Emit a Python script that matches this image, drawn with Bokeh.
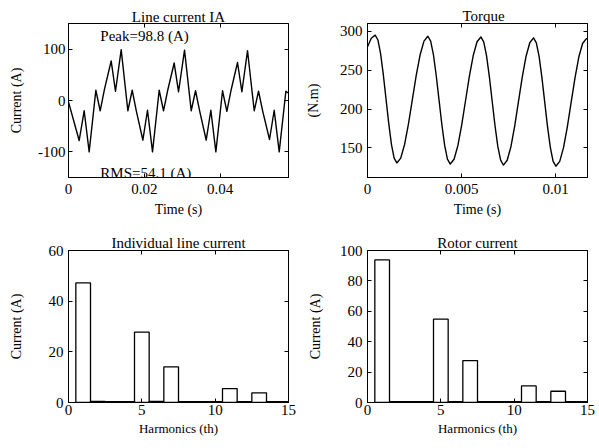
from bokeh.plotting import figure
from bokeh.models import FixedTicker, LinearAxis, Label, Range1d, NumeralTickFormatter, Title
from bokeh.layouts import column, row
from bokeh.embed import file_html
from bokeh.resources import INLINE

FONT = "Liberation Serif"

# ---- Line current IA (vertices) ----
ia_time = [0, 0.00281, 0.00413, 0.00545, 0.00721, 0.00835, 0.00949, 0.01125, 0.01239, 0.01389,
           0.01565, 0.01679, 0.01793, 0.01960, 0.02083, 0.02215, 0.02391, 0.02505, 0.02619, 0.02786,
           0.02901, 0.03059, 0.03235, 0.03349, 0.03463, 0.03630, 0.03753, 0.03885, 0.04061, 0.04175,
           0.04289, 0.04456, 0.04571, 0.04720, 0.04896, 0.05010, 0.05124, 0.05300, 0.05423, 0.05555,
           0.05731, 0.05801]
ia_current = [-3, -78, -20, -100, 20, -20, 22, 77, 18, 99,
              -20, 20, -22, -77, -19, -100, 20, -20, 21, 73,
              17, 98, -20, 19, -22, -77, -19, -100, 19, -21,
              21, 74, 17, 97, -20, 18, -22, -76, -19, -100,
              18, 14]

# ---- Torque ----
torque_time = [0, 0.0002, 0.00041,
               0.000554, 0.000698, 0.000841, 0.000985, 0.001129, 0.001273, 0.001416, 0.00156,
               0.001766, 0.001973, 0.002179, 0.002385, 0.002591, 0.002798, 0.003004, 0.00321,
               0.003359, 0.003508, 0.003656, 0.003805, 0.003954, 0.004103, 0.004251, 0.0044,
               0.004604, 0.004808, 0.005011, 0.005215, 0.005419, 0.005623, 0.005826, 0.00603,
               0.00618, 0.00633, 0.00648, 0.00663, 0.00678, 0.00693, 0.00708, 0.00723,
               0.00743, 0.00763, 0.00783, 0.00803, 0.00823, 0.00843, 0.00863, 0.00883,
               0.008979, 0.009128, 0.009276, 0.009425, 0.009574, 0.009723, 0.009871, 0.01002,
               0.010223, 0.010425, 0.010628, 0.01083, 0.011033, 0.011235, 0.011438, 0.01164,
               0.0117]
torque_value = [280, 291, 295,
                288.8, 271.0, 244.2, 212.9, 181.5, 154.7, 136.9, 130.7,
                136.9, 154.5, 181.0, 212.2, 243.3, 269.8, 287.4, 293.6,
                287.4, 269.6, 242.8, 211.5, 180.1, 153.3, 135.5, 129.3,
                135.5, 153.2, 179.8, 211.0, 242.2, 268.8, 286.5, 292.7,
                286.4, 268.7, 241.8, 210.4, 178.9, 152.0, 134.3, 128.0,
                134.2, 151.9, 178.5, 209.8, 241.0, 267.6, 285.3, 291.5,
                285.2, 267.4, 240.5, 209.0, 177.5, 150.6, 132.8, 126.5,
                132.7, 150.4, 177.2, 208.5, 239.8, 266.6, 284.3, 290.5,
                290.4]

# ---- Harmonic spectra ----
harmonic_order = list(range(1, 16))
line_harm = [47.2, 0.4, 0.3, 0.3, 27.8, 0.4, 14.1, 0.3, 0.3, 0.3, 5.5, 0.3, 3.8, 0.3, 0.3]
rotor_harm = [93.8, 0.6, 0.5, 0.5, 54.8, 0.6, 27.6, 0.5, 0.5, 0.5, 10.9, 0.5, 7.4, 0.5, 0.5]

ia_xticks = [0, 0.02, 0.04]
ia_yticks = [-100, 0, 100]
tq_xticks = [0, 0.005, 0.01]
tq_yticks = [150, 200, 250, 300]
h_xticks = [0, 5, 10, 15]
h1_yticks = [0, 20, 40, 60]
h2_yticks = [0, 20, 40, 60, 80, 100]


def make_fig(w, h, xr, yr, xt, yt, bl, br, bt, bb, title, title_standoff, title_align, title_dx,
             xlabel, ylabel, ystand, ylab_stand, xstand, xlab_stand, xlab_size="14px", xfmt=None):
    p = figure(width=w, height=h, x_range=Range1d(*xr), y_range=Range1d(*yr),
               output_backend="svg", toolbar_location=None,
               min_border_left=bl, min_border_right=br, min_border_top=bt, min_border_bottom=bb)
    p.title = Title(text=title, align=title_align, text_font=FONT, text_font_size="15px",
                    text_font_style="normal", text_color="black",
                    standoff=title_standoff, offset=title_dx)
    p.xgrid.visible = False
    p.ygrid.visible = False
    p.outline_line_color = "black"
    p.outline_line_width = 1
    p.background_fill_color = "white"
    p.border_fill_color = "white"
    xa = p.below[0]
    ya = p.left[0]
    xa.ticker = FixedTicker(ticks=xt)
    ya.ticker = FixedTicker(ticks=yt)
    if xfmt is not None:
        xa.formatter = NumeralTickFormatter(format=xfmt)
    ya.formatter = NumeralTickFormatter(format="0")
    for ax in (xa, ya):
        ax.major_tick_in = 4
        ax.major_tick_out = 0
        ax.minor_tick_line_color = None
        ax.axis_line_color = "black"
        ax.major_tick_line_color = "black"
        ax.major_label_text_font = FONT
        ax.major_label_text_font_size = "15px"
        ax.major_label_text_color = "black"
        ax.axis_label_text_font = FONT
        ax.axis_label_text_font_style = "normal"
        ax.axis_label_text_color = "black"
    xa.axis_label = xlabel
    ya.axis_label = ylabel
    xa.axis_label_text_font_size = xlab_size
    ya.axis_label_text_font_size = "14px"
    ya.major_label_standoff = ystand
    ya.axis_label_standoff = ylab_stand
    xa.major_label_standoff = xstand
    xa.axis_label_standoff = xlab_stand
    for loc, ticks in (("right", yt), ("above", xt)):
        ax = LinearAxis(ticker=FixedTicker(ticks=ticks),
                        major_label_overrides={t: "" for t in ticks},
                        major_label_text_font_size="0px", major_label_standoff=0,
                        major_tick_in=4, major_tick_out=0, minor_tick_line_color=None,
                        axis_line_color="black", major_tick_line_color="black")
        p.add_layout(ax, loc)
    return p


# Top-left: line current
p1 = make_fig(299, 224, (0, 0.058), (-150, 150), ia_xticks, ia_yticks, 68, 11, 21, 47,
              "Line current IA", -2, "center", 0,
              "Time (s)", "Current (A)", 3, 11, 6, 5, xfmt="0.[000]")
p1.line(ia_time, ia_current, line_color="black", line_width=1.4, line_join="round")
p1.add_layout(Label(x=0.0084, y=126, text="Peak=98.8 (A)", text_align="left", text_baseline="middle",
                    text_font=FONT, text_font_size="15px", text_color="black"))
p1.add_layout(Label(x=0.0084, y=-141, text="RMS=54.1 (A)", text_align="left", text_baseline="middle",
                    text_font=FONT, text_font_size="15px", text_color="black"))

# Top-right: torque (its title sits a little right of centre)
p2 = make_fig(300, 224, (0, 0.0117), (112, 310), tq_xticks, tq_yticks, 68, 12, 23, 47,
              "Torque", -1, "left", 95,
              "Time (s)", "(N.m)", 5, 16, 6, 5, xfmt="0.[000]")
p2.line(torque_time, torque_value, line_color="black", line_width=1.4, line_join="round")

# Bottom-left: individual line current harmonics
p3 = make_fig(299, 224, (0, 15), (0, 60), h_xticks, h1_yticks, 68, 11, 26, 46,
              "Individual line current", 0, "center", 0,
              "Harmonics (th)", "Current (A)", 5, 22, 2, 3, xlab_size="13px")
p3.vbar(x=harmonic_order, top=line_harm, width=1.0, bottom=0, fill_color="white",
        line_color="black", line_width=1.3)

# Bottom-right: rotor current harmonics
p4 = make_fig(300, 224, (0, 15), (0, 100), h_xticks, h2_yticks, 68, 12, 26, 44,
              "Rotor current", 0, "center", 0,
              "Harmonics (th)", "Current (A)", 5, 14, 2, 3, xlab_size="13px")
p4.vbar(x=harmonic_order, top=rotor_harm, width=1.0, bottom=0, fill_color="white",
        line_color="black", line_width=1.3)

layout = column(row(p1, p2), row(p3, p4))
open("out.html", "w").write(file_html(layout, INLINE))
